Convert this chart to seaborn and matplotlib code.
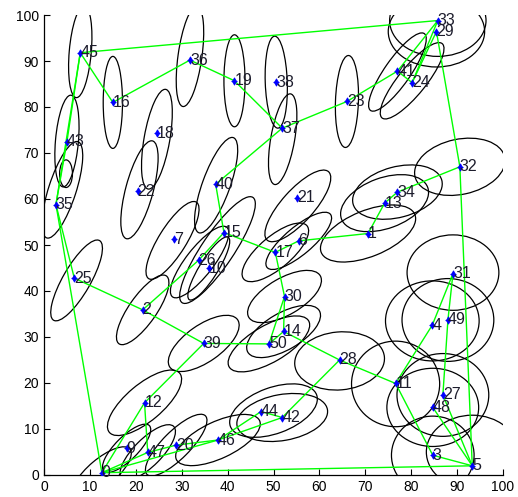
import matplotlib
matplotlib.use("Agg")
import matplotlib.pyplot as plt
from matplotlib.patches import Ellipse
import numpy as np
import pandas as pd
import seaborn as sns

# node ids and coordinates
node_id = [0, 1, 2, 3, 4, 5, 6, 7, 9, 10, 11, 12, 13, 14, 15, 16, 17, 18, 19, 20,
           21, 22, 23, 24, 25, 26, 27, 28, 29, 30, 31, 32, 33, 34, 35, 36, 37, 38,
           39, 40, 41, 42, 43, 44, 45, 46, 47, 48, 49, 50]
node_x = [12.6, 70.6, 21.5, 84.7, 84.6, 93.3, 55.5, 28.3, 18.0, 35.9, 76.6, 21.9, 74.2,
          52.2, 39.2, 15.0, 50.4, 24.6, 41.5, 28.8, 55.2, 20.4, 66.0, 80.2, 6.6, 33.7,
          86.9, 64.4, 85.5, 52.4, 89.1, 90.6, 85.8, 77.0, 2.6, 31.8, 51.9, 50.6, 34.8,
          37.4, 77.0, 51.9, 5.0, 47.3, 7.9, 37.9, 22.6, 84.7, 88.0, 49.0]
node_y = [0.5, 52.5, 35.9, 4.3, 32.6, 2.0, 50.9, 51.2, 5.8, 44.9, 19.9, 15.7, 59.1,
          31.2, 52.7, 81.0, 48.4, 74.3, 85.7, 6.5, 60.3, 61.7, 81.2, 85.3, 42.8, 46.7,
          17.4, 25.0, 96.4, 38.8, 43.8, 67.0, 98.8, 61.5, 58.8, 90.2, 75.4, 85.4, 28.6,
          63.2, 87.8, 12.5, 72.5, 13.8, 91.8, 7.6, 4.9, 14.7, 33.7, 28.5]

# links between nodes
edge_from = [45, 45, 16, 36, 19, 37, 23, 41, 41, 24, 24, 29, 32, 34, 13, 1, 6, 17, 15,
             40, 15, 26, 2, 25, 35, 43, 45, 35, 2, 39, 39, 12, 12, 0, 47, 20, 0, 46,
             46, 44, 42, 0, 5, 3, 11, 11, 4, 31, 49, 27, 48, 32, 28, 14, 30, 30, 50]
edge_to = [33, 16, 36, 19, 37, 23, 41, 24, 33, 33, 29, 32, 34, 13, 1, 6, 17, 15, 40,
           37, 26, 2, 25, 35, 43, 45, 35, 0, 39, 50, 12, 0, 47, 47, 20, 46, 46, 44,
           42, 42, 28, 5, 3, 11, 28, 4, 31, 49, 27, 5, 5, 5, 14, 30, 17, 50, 14]

# covariance ellipses: centre, semi-axes, orientation (deg)
ell_x = [7.9, 15.0, 31.8, 41.5, 50.6, 52.0, 66.0, 77.0, 80.2, 85.8, 85.5, 5.0, 4.0,
         24.6, 20.8, 37.5, 28.0, 37.8, 33.9, 35.9, 55.3, 55.5, 50.4, 77.0, 74.2, 70.6,
         90.6, 89.1, 84.6, 88.0, 76.6, 86.9, 84.7, 84.7, 93.3, 64.4, 52.4, 52.2, 49.0,
         34.8, 21.5, 7.1, 21.9, 50.0, 51.9, 37.9, 28.8, 22.6, 18.0, 12.6, 4.8]
ell_y = [92.0, 81.0, 91.0, 85.7, 85.4, 73.0, 81.2, 87.6, 85.7, 98.8, 96.4, 72.6, 62.0,
         73.0, 62.0, 63.0, 51.0, 48.9, 46.3, 44.9, 58.5, 50.9, 48.4, 61.5, 59.1, 52.5,
         67.0, 44.0, 33.5, 33.7, 19.8, 17.4, 14.7, 4.3, 5.0, 24.8, 38.8, 31.2, 28.5,
         28.6, 35.9, 42.3, 15.7, 14.0, 12.5, 7.6, 6.5, 4.9, 5.8, 0.5, 65.5]
ell_a = [10, 10, 11, 10, 10, 10, 10, 10.2, 10.4, 10.5, 10.5, 10, 11, 11, 11, 11, 9.8,
         13.8, 9.6, 8, 10, 9, 9, 10, 10, 11, 10, 10, 10.2, 10, 9.6, 10, 10, 9, 10, 9.8,
         9, 9, 10, 9, 9, 10, 10, 10, 10, 10, 9, 8, 7, 8, 3]
ell_b = [2.4, 2.1, 2.6, 2.3, 2.4, 2.6, 2.5, 2.8, 3.0, 7.8, 7.7, 2.5, 3.0, 2.8, 3.0, 3.0,
         3.0, 3.5, 3.0, 2.0, 3.5, 3.0, 3.5, 5.5, 5.5, 5.0, 6.0, 8.2, 8.7, 9.0, 9.3, 9.0,
         8.5, 8.5, 8.0, 6.3, 4.0, 4.0, 4.0, 4.0, 3.0, 3.0, 4.0, 5.0, 5.0, 4.0, 3.0, 3.0,
         2.5, 3.0, 1.4]
ell_ang = [85, 90, 82, 90, 92, 80, 88, 55, 51, 0, 0, 85, 72, 80, 75, 70, 58, 56, 52, 58,
           48, 40, 40, 15, 20, 22, 12, 0, 0, 0, 0, 0, 0, 0, 0, 5, 30, 30, 30, 35, 55,
           60, 40, 20, 10, 25, 45, 45, 45, 40, 90]

nodes = pd.DataFrame({"id": node_id, "x": node_x, "y": node_y})
pos = nodes.set_index("id")

seg_rows = []
for k, (a, b) in enumerate(zip(edge_from, edge_to)):
    seg_rows.append({"seg": k, "order": 0, "x": pos.loc[a, "x"], "y": pos.loc[a, "y"]})
    seg_rows.append({"seg": k, "order": 1, "x": pos.loc[b, "x"], "y": pos.loc[b, "y"]})
segs = pd.DataFrame(seg_rows)

sns.set_style("white")
plt.rcParams["font.family"] = ["Liberation Sans", "DejaVu Sans"]

fig = plt.figure(figsize=(5.18, 4.97), dpi=100)
ax = fig.add_axes([44 / 518, 22 / 497, 459 / 518, 460 / 497])

for cx, cy, a, b, t in zip(ell_x, ell_y, ell_a, ell_b, ell_ang):
    ax.add_patch(Ellipse((cx, cy), 2 * a, 2 * b, angle=t, fill=False,
                         edgecolor="black", linewidth=0.9))

sns.lineplot(data=segs, x="x", y="y", units="seg", estimator=None, sort=False,
             color="#00ff00", linewidth=1.0, ax=ax, legend=False)

sns.scatterplot(data=nodes, x="x", y="y", marker="d", s=14, color="blue",
                edgecolor="blue", linewidth=0.5, ax=ax, legend=False, zorder=5)
sns.scatterplot(data=nodes, x="x", y="y", marker="+", s=22, color="blue",
                linewidth=0.8, ax=ax, legend=False, zorder=5)

for i, x, y in zip(node_id, node_x, node_y):
    ax.text(x, y, str(i), fontsize=11.5, ha="left", va="center", color="#1c1c2c",
            zorder=6)

ax.set_xlim(0, 100)
ax.set_ylim(0, 100)
ax.set_xticks(np.arange(0, 101, 10))
ax.set_yticks(np.arange(0, 101, 10))
ax.set_xlabel("")
ax.set_ylabel("")
ax.tick_params(direction="in", length=4, width=0.8, labelsize=10, colors="black",
               bottom=True, left=True)
for side in ["top", "right"]:
    ax.spines[side].set_visible(False)
for side in ["left", "bottom"]:
    ax.spines[side].set_color("black")
    ax.spines[side].set_linewidth(0.9)

fig.savefig("out.png", dpi=100)
